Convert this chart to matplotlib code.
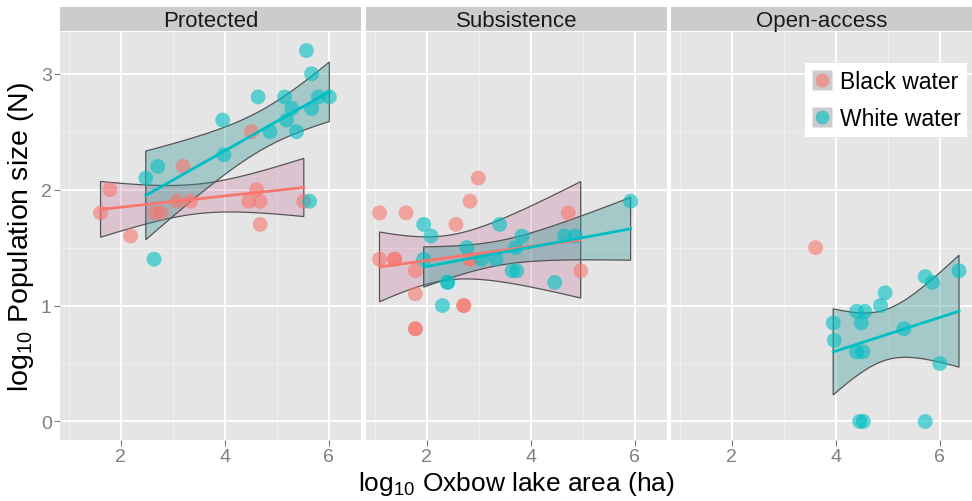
import numpy as np
import matplotlib
matplotlib.use("Agg")
import matplotlib.pyplot as plt
from matplotlib.lines import Line2D
from matplotlib.legend_handler import HandlerTuple

plt.rcParams['font.family'] = ['Liberation Sans', 'DejaVu Sans']
plt.rcParams['mathtext.default'] = 'regular'

panels = ["Protected", "Subsistence", "Open-access"]
series = ["Black water", "White water"]

# Protected
p_black_x = [1.61, 1.79, 2.19, 2.65, 2.78, 3.20, 3.08, 3.34, 4.51, 4.46, 4.61, 4.68, 4.68, 5.52]
p_black_y = [1.80, 2.00, 1.60, 1.80, 1.80, 2.20, 1.90, 1.90, 2.50, 1.90, 2.00, 1.90, 1.70, 1.90]
p_white_x = [2.48, 2.71, 2.64, 3.96, 3.98, 4.64, 4.87, 5.15, 5.19, 5.29, 5.38, 5.57, 5.67, 5.67, 5.80, 6.01, 5.63]
p_white_y = [2.10, 2.20, 1.40, 2.60, 2.30, 2.80, 2.50, 2.80, 2.60, 2.70, 2.50, 3.20, 3.00, 2.70, 2.80, 2.80, 1.90]
# Subsistence
s_black_x = [1.09, 1.60, 1.09, 1.38, 1.38, 1.78, 1.78, 1.78, 1.78, 2.56, 2.83, 2.99, 2.83, 2.83, 2.71, 2.71, 4.72, 4.96]
s_black_y = [1.80, 1.80, 1.40, 1.40, 1.40, 1.30, 1.10, 0.80, 0.80, 1.70, 1.90, 2.10, 1.40, 1.40, 1.00, 1.00, 1.80, 1.30]
s_white_x = [1.94, 2.08, 1.94, 2.40, 2.40, 2.30, 2.77, 3.05, 3.33, 3.40, 3.71, 3.83, 3.64, 3.73, 4.46, 4.65, 4.86, 5.92]
s_white_y = [1.70, 1.60, 1.40, 1.20, 1.20, 1.00, 1.50, 1.40, 1.40, 1.70, 1.50, 1.60, 1.30, 1.30, 1.20, 1.60, 1.60, 1.90]
# Open-access
o_black_x = [3.61]
o_black_y = [1.50]
o_white_x = [3.95, 3.97, 4.40, 4.56, 4.49, 4.40, 4.52, 4.46, 4.53, 4.86, 4.95, 5.31, 5.72, 5.86, 6.00, 5.72, 6.37]
o_white_y = [0.85, 0.70, 0.95, 0.95, 0.85, 0.60, 0.60, 0.00, 0.00, 1.00, 1.11, 0.80, 1.25, 1.20, 0.50, 0.00, 1.30]

data = {
    "Protected": {"Black water": (p_black_x, p_black_y), "White water": (p_white_x, p_white_y)},
    "Subsistence": {"Black water": (s_black_x, s_black_y), "White water": (s_white_x, s_white_y)},
    "Open-access": {"Black water": (o_black_x, o_black_y), "White water": (o_white_x, o_white_y)},
}

x_ticks = [2, 4, 6]
y_ticks = [0, 1, 2, 3]

pt_col = {"Black water": "#F8766D", "White water": "#00BFC4"}
rib_col = {"Black water": (193/255, 101/255, 145/255, 0.25),
           "White water": (46/255, 146/255, 146/255, 0.35)}


def t_crit(df, z=1.959964):
    return (z + (z**3 + z) / (4 * df) + (5 * z**5 + 16 * z**3 + 3 * z) / (96 * df**2)
            + (3 * z**7 + 19 * z**5 + 17 * z**3 - 15 * z) / (384 * df**3))


def smooth(x, y):
    x = np.asarray(x, float); y = np.asarray(y, float)
    n = len(x)
    b, a = np.polyfit(x, y, 1)
    res = y - (a + b * x)
    s2 = np.sum(res**2) / (n - 2)
    xx = np.linspace(x.min(), x.max(), 80)
    fit = a + b * xx
    se = np.sqrt(s2 * (1 / n + (xx - x.mean())**2 / np.sum((x - x.mean())**2)))
    t = t_crit(n - 2)
    return xx, fit, fit - t * se, fit + t * se


W, H = 972, 502
fig = plt.figure(figsize=(W / 100, H / 100), dpi=100)
fig.patch.set_facecolor('white')

lefts = [60, 366, 671]
pw = 301
bottom_px, top_px = 441, 33
strip_top = 8

for i, pname in enumerate(panels):
    ax = fig.add_axes([lefts[i] / W, (H - bottom_px) / H, pw / W, (bottom_px - top_px) / H])
    ax.set_facecolor('#E5E5E5')
    for sp in ax.spines.values():
        sp.set_visible(False)
    ax.set_xlim(0.83, 6.62)
    ax.set_ylim(-0.16, 3.36)
    for v in [1, 3, 5]:
        ax.axvline(v, color='#F2F2F2', lw=0.6, zorder=0)
    for v in [0.5, 1.5, 2.5]:
        ax.axhline(v, color='#F2F2F2', lw=0.6, zorder=0)
    for v in x_ticks:
        ax.axvline(v, color='white', lw=1.3, zorder=0)
    for v in y_ticks:
        ax.axhline(v, color='white', lw=1.3, zorder=0)
    ax.set_xticks(x_ticks)
    ax.set_yticks(y_ticks)
    ax.tick_params(axis='both', colors='#7F7F7F', labelcolor='#7F7F7F', labelsize=14,
                   length=4, width=0.8)
    ax.tick_params(axis='x', pad=2)
    ax.tick_params(axis='y', pad=2)
    if i > 0:
        ax.tick_params(axis='y', length=0, labelleft=False)

    for sname in series:
        x, y = data[pname][sname]
        ax.scatter(x, y, s=115, color=pt_col[sname], alpha=0.6, edgecolors='none', zorder=3)
        if len(x) > 2:
            xx, fit, lo, hi = smooth(x, y)
            poly_x = np.concatenate([xx, xx[::-1]])
            poly_y = np.concatenate([lo, hi[::-1]])
            ax.fill(poly_x, poly_y, facecolor=rib_col[sname], edgecolor='#555555', lw=0.9, zorder=2)
            ax.plot(xx, fit, color=pt_col[sname], lw=2, zorder=4)

    # strip
    sax = fig.add_axes([lefts[i] / W, (H - top_px + 1) / H, pw / W, (top_px - 1 - strip_top) / H])
    sax.set_facecolor('#CCCCCC')
    sax.set_xticks([]); sax.set_yticks([])
    for sp in sax.spines.values():
        sp.set_visible(False)
    sax.text(0.5, 0.45, pname, ha='center', va='center', fontsize=16, transform=sax.transAxes,
             color='#1A1A1A')

    if i == 2:
        handles = []
        for s in series:
            bg = Line2D([0], [0], marker='s', ls='', markersize=15, markerfacecolor='#CCCCCC',
                        markeredgecolor='none')
            dot = Line2D([0], [0], marker='o', ls='', markersize=10, markerfacecolor=pt_col[s],
                         markeredgecolor='none', alpha=0.6)
            handles.append((bg, dot))
        leg = ax.legend(handles, series, loc='upper right', bbox_to_anchor=(1.0, 0.935),
                        fontsize=16.5, frameon=True, fancybox=False, framealpha=1,
                        edgecolor='white', handletextpad=0.3, borderpad=0.3,
                        labelspacing=0.6, handlelength=0.9, borderaxespad=0.2,
                        handler_map={tuple: HandlerTuple(ndivide=1, pad=0)})
        leg.get_frame().set_linewidth(0)

fig.text(0.5 * (60 + 972) / W, 0.008, r'$log_{10}$ Oxbow lake area (ha)', ha='center', va='bottom',
         fontsize=19)
fig.text(0.006, (H - (33 + 441) / 2) / H, r'$log_{10}$ Population size (N)', ha='left', va='center',
         rotation=90, fontsize=20.5)

fig.savefig('out.png', dpi=100, facecolor='white')
